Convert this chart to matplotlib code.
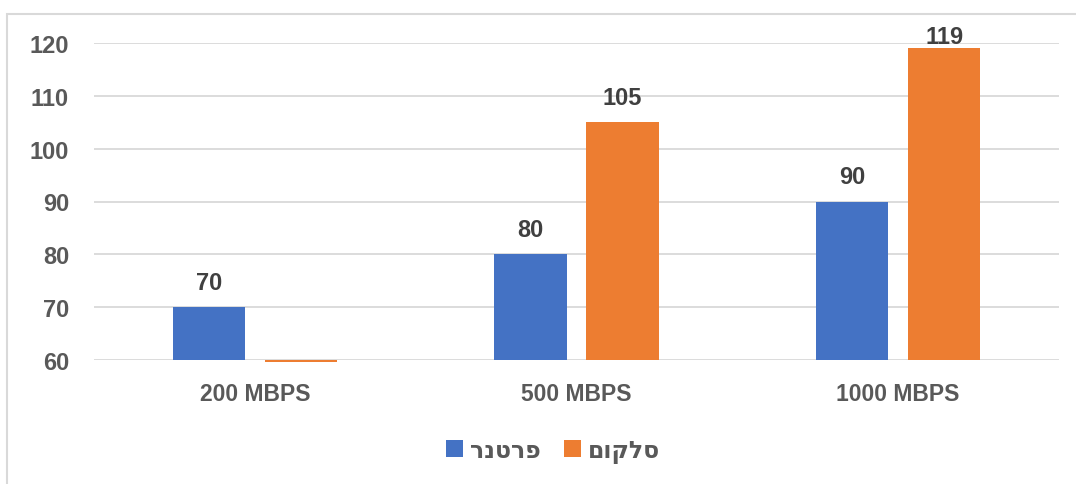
import matplotlib
matplotlib.use("Agg")
import matplotlib.pyplot as plt
from matplotlib.patches import Rectangle
import numpy as np

categories = ["200 MBPS", "500 MBPS", "1000 MBPS"]
series_names = ["פרטנר", "סלקום"]
partner = [70, 80, 90]
cellcom = [59.6, 105, 119]
show_label = [[True, True, True], [False, True, True]]
yticks = [60, 70, 80, 90, 100, 110, 120]

colors = ["#4472C4", "#ED7D31"]
text_color = "#595959"
label_color = "#404040"
grid_color = "#D9D9D9"

plt.rcParams['font.family'] = ['Liberation Sans', 'DejaVu Sans']

W, H = 1076, 485
fig = plt.figure(figsize=(W / 100, H / 100), dpi=100)
ax = fig.add_axes([94 / W, 1 - 361 / H, (1059 - 94) / W, (361 - 44) / H])

# outer chart frame (cropped on right and bottom)
fig.patches.append(Rectangle((7 / W, -0.1), 1.2, 1 - 15 / H + 0.1,
                             transform=fig.transFigure, fill=False,
                             edgecolor=grid_color, linewidth=1.5))

x = np.arange(len(categories))
off = 0.143
width = 0.224
ymin, ymax = 60, 120

for si, (vals, col) in enumerate(zip([partner, cellcom], colors)):
    xs = x + (-off if si == 0 else off)
    heights = [v - ymin for v in vals]
    ax.bar(xs, heights, width=width, bottom=ymin, color=col, zorder=3,
           clip_on=False, label=series_names[si][::-1])
    for xi, v, show in zip(xs, vals, show_label[si]):
        if not show:
            continue
        ly = min(v + 4.7, ymax + 1.3)
        ax.text(xi, ly, f"{v:g}", ha="center", va="center", fontsize=17,
                fontweight="bold", color=label_color, zorder=4)

ax.set_xlim(-0.5, len(categories) - 0.5)
ax.set_ylim(ymin, ymax)
ax.set_yticks(yticks)
ax.set_yticklabels([str(t) for t in yticks], fontsize=17, fontweight="bold",
                   color=text_color)
ax.set_xticks(x)
ax.set_xticklabels(categories, fontsize=16.5, fontweight="bold", color=text_color)
ax.tick_params(axis="y", length=0, pad=18)
ax.tick_params(axis="x", length=0, pad=16)
ax.grid(axis="y", color=grid_color, linewidth=1.3, zorder=0)
ax.set_axisbelow(True)
for s in ax.spines.values():
    s.set_visible(False)

leg = fig.legend(loc="center", bbox_to_anchor=(553 / W, 1 - 452 / H), ncol=2,
                 frameon=False, handlelength=0.7, handleheight=0.7,
                 handletextpad=0.3, columnspacing=1.0,
                 prop={"family": ["Open Sans", "DejaVu Sans"], "weight": "bold",
                       "size": 17})
for t in leg.get_texts():
    t.set_color(text_color)

fig.savefig("out.png", dpi=100)
